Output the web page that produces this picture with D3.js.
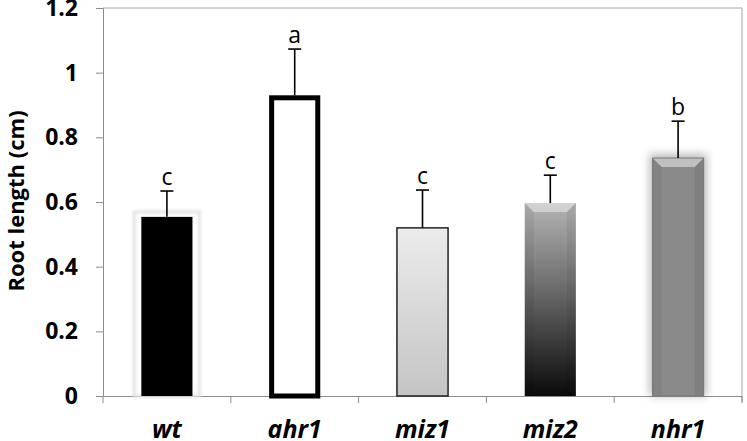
<!DOCTYPE html>
<html>
<head>
<meta charset="utf-8">
<script src="https://cdn.jsdelivr.net/npm/d3@7"></script>
<style>
  body { margin: 0; background: #fff; }
  svg { display: block; font-family: "Open Sans", "Liberation Sans", sans-serif; }
</style>
</head>
<body>
<svg id="chart" width="747" height="441"></svg>
<script>
var genotypes = ["wt", "ahr1", "miz1", "miz2", "nhr1"];
var rootLength = [0.554, 0.93, 0.52, 0.597, 0.736];
var errorBars = [0.08, 0.143, 0.117, 0.086, 0.114];
var letters = ["c", "a", "c", "c", "b"];
var yTicks = [0, 0.2, 0.4, 0.6, 0.8, 1, 1.2];

var vis = d3.select("#chart");
var plotLeft = 103, plotRight = 742, plotTop = 8, plotBottom = 396;

var x = d3.scaleBand().domain(genotypes).range([plotLeft, plotRight]).paddingInner(0.6).paddingOuter(0.3);
var y = d3.scaleLinear().domain([0, 1.2]).range([plotBottom, plotTop]);

// gradients + blur
var defs = vis.append("defs");
var g1 = defs.append("linearGradient").attr("id", "gMiz1").attr("x1", 0).attr("y1", 0).attr("x2", 0).attr("y2", 1);
g1.append("stop").attr("offset", "0%").attr("stop-color", "#ececec");
g1.append("stop").attr("offset", "100%").attr("stop-color", "#c4c4c4");
var g2 = defs.append("linearGradient").attr("id", "gMiz2").attr("x1", 0).attr("y1", 0).attr("x2", 0).attr("y2", 1);
g2.append("stop").attr("offset", "0%").attr("stop-color", "#b4b4b4");
g2.append("stop").attr("offset", "45%").attr("stop-color", "#6a6a6a");
g2.append("stop").attr("offset", "100%").attr("stop-color", "#0a0a0a");
defs.append("filter").attr("id", "blur").attr("x", "-30%").attr("y", "-30%").attr("width", "160%").attr("height", "160%")
  .append("feGaussianBlur").attr("stdDeviation", 4);
defs.append("filter").attr("id", "soft").attr("x", "-30%").attr("y", "-30%").attr("width", "160%").attr("height", "160%")
  .append("feGaussianBlur").attr("stdDeviation", 1.5);

// plot frame
vis.append("line").attr("x1", plotLeft).attr("x2", plotRight).attr("y1", plotTop).attr("y2", plotTop).style("stroke", "#a6a6a6");
vis.append("line").attr("x1", plotRight).attr("x2", plotRight).attr("y1", plotTop).attr("y2", plotBottom + 6).style("stroke", "#a6a6a6");

// axes
var yAxis = d3.axisLeft(y).tickValues(yTicks).tickSize(7).tickPadding(18).tickFormat(function(d){ return d; });
var yg = vis.append("g").attr("transform", "translate(" + plotLeft + ",0)").call(yAxis);
yg.selectAll("path, line").style("stroke", "#8c8c8c");
yg.selectAll("text").style("font-size", "23px").style("font-weight", "bold").style("fill", "#000").style("font-family", "Open Sans");

var xAxis = d3.axisBottom(x).tickSize(0).tickPadding(0).tickFormat("");
var xg = vis.append("g").attr("transform", "translate(0," + plotBottom + ")").call(xAxis);
xg.select("path").style("stroke", "#8c8c8c");
var bw = x.step();
var ticksX = d3.range(genotypes.length + 1).map(function(i){ return plotLeft + i * bw; });
vis.selectAll(".xt").data(ticksX).enter().append("line")
  .attr("x1", function(d){ return d; }).attr("x2", function(d){ return d; })
  .attr("y1", plotBottom).attr("y2", plotBottom + 7).style("stroke", "#8c8c8c");

vis.selectAll(".xl").data(genotypes).enter().append("text")
  .attr("x", function(d){ return x(d) + x.bandwidth() / 2; })
  .attr("y", 438)
  .attr("text-anchor", "middle")
  .style("font-size", "25px").style("font-weight", "bold").style("font-style", "italic")
  .text(function(d){ return d; });

vis.append("text")
  .attr("transform", "translate(24,201) rotate(-90)")
  .attr("text-anchor", "middle")
  .style("font-size", "22px").style("font-weight", "bold")
  .text("Root length (cm)");

// bars
var w = x.bandwidth();
function bx(i){ return x(genotypes[i]); }
function by(i){ return y(rootLength[i]); }
function bh(i){ return plotBottom - y(rootLength[i]); }

// wt: black with pale halo
vis.append("rect").attr("x", bx(0) - 7).attr("y", by(0) - 5).attr("width", w + 14).attr("height", bh(0) + 5)
  .style("fill", "#fff").style("stroke", "#e2e2e2").style("stroke-width", 3).attr("filter", "url(#soft)");
vis.append("rect").attr("x", bx(0)).attr("y", by(0)).attr("width", w).attr("height", bh(0)).style("fill", "#000");

// ahr1: white with thick outline
vis.append("rect").attr("x", bx(1) + 2.5).attr("y", by(1) + 2.5).attr("width", w - 5).attr("height", bh(1) - 2.5)
  .style("fill", "#fff").style("stroke", "#000").style("stroke-width", 5);

// miz1: light gradient
vis.append("rect").attr("x", bx(2)).attr("y", by(2)).attr("width", w).attr("height", bh(2))
  .style("fill", "url(#gMiz1)").style("stroke", "#222").style("stroke-width", 1.5);

// miz2: dark gradient with bevel
vis.append("rect").attr("x", bx(3)).attr("y", by(3)).attr("width", w).attr("height", bh(3)).style("fill", "url(#gMiz2)");
vis.append("path").attr("d", "M" + bx(3) + "," + by(3) + "h" + w + "l-9,9h" + (-(w - 18)) + "z").style("fill", "#d8d8d8").style("opacity", 0.8);
vis.append("path").attr("d", "M" + bx(3) + "," + by(3) + "l9,9v" + (bh(3) - 9) + "h-9z").style("fill", "#000").style("opacity", 0.06);
vis.append("path").attr("d", "M" + (bx(3) + w) + "," + by(3) + "l-9,9v" + (bh(3) - 9) + "h9z").style("fill", "#000").style("opacity", 0.06);

// nhr1: gray with glow + bevel
vis.append("rect").attr("x", bx(4) - 3).attr("y", by(4) - 4).attr("width", w + 6).attr("height", bh(4) + 4)
  .style("fill", "#666").style("opacity", 0.45).attr("filter", "url(#blur)");
vis.append("rect").attr("x", bx(4)).attr("y", by(4)).attr("width", w).attr("height", bh(4)).style("fill", "#8a8a8a");
vis.append("path").attr("d", "M" + bx(4) + "," + by(4) + "h" + w + "l-9,9h" + (-(w - 18)) + "z").style("fill", "#c0c0c0");
vis.append("path").attr("d", "M" + bx(4) + "," + by(4) + "l9,9v" + (bh(4) - 9) + "h-9z").style("fill", "#000").style("opacity", 0.05);
vis.append("path").attr("d", "M" + (bx(4) + w) + "," + by(4) + "l-9,9v" + (bh(4) - 9) + "h9z").style("fill", "#000").style("opacity", 0.07);
vis.append("rect").attr("x", bx(4)).attr("y", by(4)).attr("width", w).attr("height", bh(4))
  .style("fill", "none").style("stroke", "#777").style("stroke-width", 1);

// error bars
var eb = vis.selectAll(".err").data(genotypes).enter().append("g");
eb.append("line")
  .attr("x1", function(d){ return x(d) + w / 2; }).attr("x2", function(d){ return x(d) + w / 2; })
  .attr("y1", function(d, i){ return y(rootLength[i]); })
  .attr("y2", function(d, i){ return y(rootLength[i] + errorBars[i]); })
  .style("stroke", "#000").style("stroke-width", 1.6);
eb.append("line")
  .attr("x1", function(d){ return x(d) + w / 2 - 6.5; }).attr("x2", function(d){ return x(d) + w / 2 + 6.5; })
  .attr("y1", function(d, i){ return y(rootLength[i] + errorBars[i]); })
  .attr("y2", function(d, i){ return y(rootLength[i] + errorBars[i]); })
  .style("stroke", "#000").style("stroke-width", 1.6);
eb.append("text")
  .attr("x", function(d){ return x(d) + w / 2; })
  .attr("y", function(d, i){ return y(rootLength[i] + errorBars[i]) - 6; })
  .attr("text-anchor", "middle")
  .style("font-size", "23px")
  .text(function(d, i){ return letters[i]; });
</script>
</body>
</html>
